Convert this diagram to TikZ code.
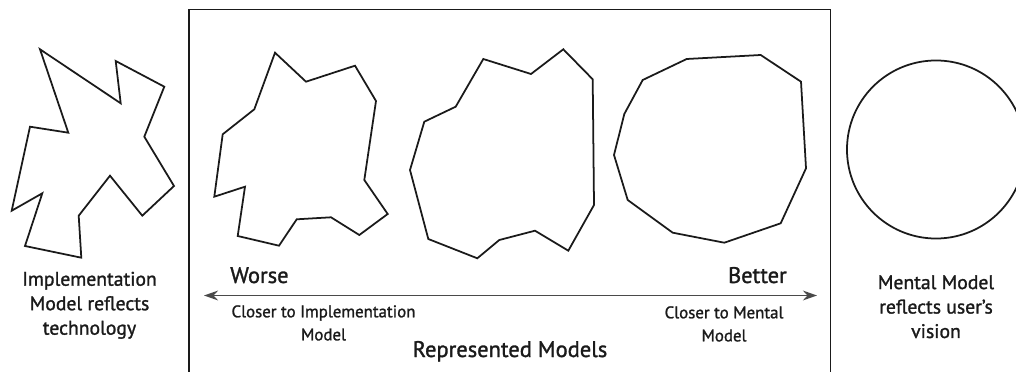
\documentclass[tikz,border=0pt]{standalone}
\usepackage{fontspec}
\setmainfont{PT Sans}[FakeBold=1.3]
\usetikzlibrary{arrows.meta}
\definecolor{model-ink}{HTML}{1A1A1A}
\definecolor{model-gray}{HTML}{4A4A4A}

\begin{document}
\begin{tikzpicture}[
    x=0.025cm, y=-0.025cm,
    outline/.style={draw=model-ink, line width=1.25pt, line join=miter},
    frame/.style={draw=model-ink, line width=1.2pt},
    arr/.style={{Stealth[length=10pt, width=7pt]}-{Stealth[length=10pt, width=7pt]},
                line width=1.2pt, model-gray},
    side/.style={font=\fontsize{14}{17.4}\selectfont, align=center, text=model-ink, inner sep=0pt},
    grade/.style={font=\fontsize{16}{19}\selectfont, text=model-ink, inner sep=0pt},
    note/.style={font=\fontsize{12}{16.4}\selectfont, align=center, text=model-ink, inner sep=0pt},
]
    \useasboundingbox (0,0) rectangle (1016,372);

    % Frame of the represented models (open at the bottom)
    \draw[frame] (189,372) -- (189,9.5) -- (830.5,9.5) -- (830.5,372);

    % Implementation model
    \draw[outline] (40,49.3) -- (120.7,103.3) -- (115.7,61) -- (164.3,86.7)
        -- (144.3,136.7) -- (174,186) -- (142.3,215.7) -- (110,175.7)
        -- (78.7,215.7) -- (81.3,257.7) -- (25,246) -- (42.3,193.3)
        -- (11.7,210.7) -- (30,126.7) -- (68.3,132.7) -- cycle;

    % Represented models, worse to better
    \draw[outline] (275,52.7) -- (306,81.7) -- (355,65.7) -- (376,101)
        -- (364.3,180) -- (387.7,214) -- (359.3,235) -- (331,217.3)
        -- (296.7,219.3) -- (279,245.7) -- (237.7,236) -- (245,186.7)
        -- (214.3,196.7) -- (222.7,134.3) -- (254.3,109.3) -- cycle;
    \draw[outline] (483.3,59) -- (531,74) -- (563.3,49.3) -- (592.7,79.3)
        -- (594,205) -- (568.3,250.7) -- (535,230.7) -- (499.3,240)
        -- (477.3,258.3) -- (428.3,239) -- (410,170) -- (424.3,121.7)
        -- (455.7,106.7) -- cycle;
    \draw[outline] (686.7,59) -- (760.7,55) -- (801,81.7) -- (806,168.3)
        -- (780.7,223.3) -- (724.3,242.7) -- (672.7,232.7) -- (627.7,200)
        -- (614,155) -- (624.3,114) -- (642.7,80) -- cycle;

    % Mental model
    \node[circle, outline, inner sep=0pt, minimum size=4.45cm] (mental) at (936,149.5) {};

    % Labels
    \node[side, anchor=north] (impl) at (89.5,271.5)
        {Implementation\\Model reflects\\technology};
    \node[side, anchor=north] (vision) at (936,275)
        {Mental Model\\reflects user's\\vision};

    \node[grade, anchor=base west] (worse) at (230,283) {Worse};
    \node[grade, anchor=base east] (better) at (787,283) {Better};

    \coordinate (worst) at (204,295.5);
    \coordinate (best) at (817,295.5);
    \draw[arr] (worst) -- (best);

    \node[note, anchor=north] (closeimpl) at (323.5,305) {Closer to Implementation\\Model};
    \node[note, anchor=north] (closemental) at (724,306) {Closer to Mental\\Model};

    \node[grade, anchor=base] (repr) at (510,357) {Represented Models};
\end{tikzpicture}
\end{document}
